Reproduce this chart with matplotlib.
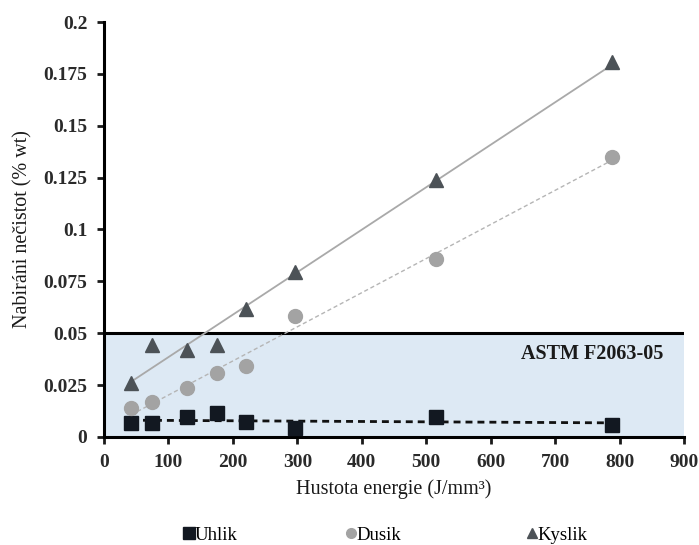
import numpy as np
import matplotlib
matplotlib.use("Agg")
import matplotlib.pyplot as plt
from matplotlib.lines import Line2D

plt.rcParams['font.family'] = ['Liberation Serif', 'DejaVu Serif']

# Energy density (J/mm^3) and impurity pick-up (% wt)
energie = [42, 75, 129, 175, 220, 297, 515, 789]
uhlik = [0.0067, 0.0068, 0.0094, 0.0114, 0.0072, 0.0045, 0.0096, 0.0058]
dusik = [0.0140, 0.0169, 0.0236, 0.0310, 0.0342, 0.0583, 0.0858, 0.1350]
kyslik = [0.0262, 0.0445, 0.0420, 0.0445, 0.0617, 0.0795, 0.1240, 0.1807]

limit_astm = 0.05
x_ticks = [0, 100, 200, 300, 400, 500, 600, 700, 800, 900]
y_ticks = [0, 0.025, 0.05, 0.075, 0.1, 0.125, 0.15, 0.175, 0.2]
y_tick_labels = ['0', '0.025', '0.05', '0.075', '0.1', '0.125', '0.15', '0.175', '0.2']

fig = plt.figure(figsize=(6.99, 5.45), dpi=100)
ax = fig.add_axes([0.1488, 0.1982, 0.8297, 0.7614])

# Acceptable zone according to the standard
ax.axhspan(0, limit_astm, xmin=0, xmax=1, facecolor='#dde9f4', edgecolor='none', zorder=0)
ax.axhline(limit_astm, color='black', lw=2.2, zorder=1)
ax.text(868, 0.040, 'ASTM F2063-05', ha='right', va='center',
        fontsize=14.5, fontweight='bold', color='#1a1a1a', zorder=5)

x = np.array(energie, dtype=float)
xx = np.array([x.min(), x.max()])

def trend(y):
    k, q = np.polyfit(x, np.array(y), 1)
    return k * xx + q

ax.plot(xx, trend(kyslik), color='#a9a9a9', lw=1.3, zorder=2)
ax.plot(xx, trend(dusik), color='#b5b5b5', lw=1.0, dashes=(3, 2), zorder=2)
ax.plot(xx, trend(uhlik), color='#111111', lw=2.0, dashes=(2.5, 1.8), zorder=2)

ax.plot(energie, uhlik, ls='none', marker='s', ms=10, color='#121821', zorder=4)
ax.plot(energie, dusik, ls='none', marker='o', ms=10, color='#a3a3a3', zorder=4)
ax.plot(energie, kyslik, ls='none', marker='^', ms=10, color='#4c5257', zorder=4)

ax.set_xlim(0, 900)
ax.set_ylim(0, 0.2)
ax.set_xticks(x_ticks)
ax.set_xticklabels([str(v) for v in x_ticks])
ax.set_yticks(y_ticks)
ax.set_yticklabels(y_tick_labels)

for side in ('top', 'right'):
    ax.spines[side].set_visible(False)
for side in ('left', 'bottom'):
    ax.spines[side].set_linewidth(2.2)
ax.tick_params(axis='both', direction='out', length=5, width=2, labelsize=14,
               colors='#1a1a1a')
ax.tick_params(axis='x', pad=7)
ax.tick_params(axis='y', pad=7)
for lbl in ax.get_xticklabels() + ax.get_yticklabels():
    lbl.set_fontweight('bold')
    lbl.set_color('#2a2a2a')

ax.set_xlabel('Hustota energie (J/mm³)', fontsize=14.5, color='#1a1a1a', labelpad=6)
ax.set_ylabel('Nabiráni nečistot (% wt)', fontsize=14.5, color='#1a1a1a', labelpad=8)

# Legend entries placed individually along the bottom
legend_items = [
    ('Uhlik', Line2D([], [], ls='none', marker='s', ms=8, color='#121821'), 0.263),
    ('Dusik', Line2D([], [], ls='none', marker='o', ms=7, color='#a3a3a3'), 0.495),
    ('Kyslik', Line2D([], [], ls='none', marker='^', ms=7, color='#4c5257'), 0.754),
]
for name, handle, xpos in legend_items:
    fig.legend([handle], [name], loc='center left', bbox_to_anchor=(xpos, 0.018),
               frameon=False, fontsize=13.5, handlelength=0.5, handletextpad=0.05,
               borderpad=0, borderaxespad=0)

fig.savefig('out.png', dpi=100)
